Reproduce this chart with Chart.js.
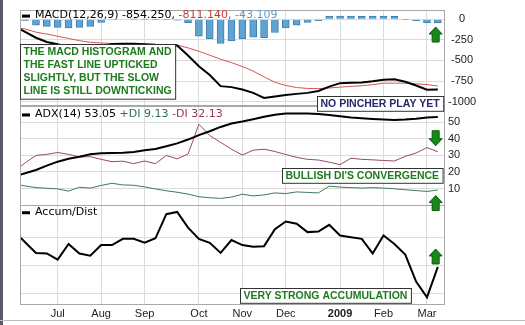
<!DOCTYPE html>
<html>
<head>
<meta charset="utf-8">
<title>MACD / ADX / Accum-Dist</title>
<script src="https://cdn.jsdelivr.net/npm/chart.js@4.4.0/dist/chart.umd.min.js"></script>
<style>
	html, body { margin: 0; padding: 0; background: #fff; }
	#wrap { width: 525px; height: 325px; }
</style>
</head>
<body>
<div id="wrap"><canvas id="myChart" width="525" height="325"></canvas></div>
<script>
// weekly bars, June 2008 - March 2009 (index 0 = first week, partly off the left edge)
const monthTicks = [4, 8, 12, 17, 21, 25, 30, 34, 38];
const monthLabels = ["Jul", "Aug", "Sep", "Oct", "Nov", "Dec", "2009", "Feb", "Mar"];

const macdTicks = [0, -250, -500, -750, -1000];
const adxTicks = [10, 20, 30, 40, 50];
const adGrid = [10, 15, 20];

const macdHist = [5, -12, -71, -86, -98, -106, -98, -86, -39, -5, 0, 3, 2, -2, -4, -10,
	-40, -205, -235, -294, -262, -235, -218, -222, -160, -106, -71, -39, -15, 40,
	40, 40, 35, 40, 40, 35, -3, -15, -45, -43.109];
const macdLine = [-79, -153, -224, -276, -304, -339, -357, -366, -327, -299, -298, -298, -302, -310, -313, -318,
	-440, -571, -676, -812, -824, -853, -894, -955, -938, -920, -906, -894, -871, -818,
	-776, -772, -767, -753, -735, -729, -759, -804, -855, -854.25];
const macdSignal = [-88, -118, -156, -180, -206, -233, -259, -280, -288, -294, -298, -301, -304, -306, -309, -313,
	-347, -388, -436, -485, -526, -574, -629, -700, -765, -804, -829, -840, -842, -835,
	-824, -815, -807, -794, -776, -776, -776, -784, -792, -811.14];

const adxLine = [17.4, 19.2, 21.2, 23.8, 26.2, 27.9, 29.1, 30.6, 31.2, 31.4, 31.6, 32.0, 33.0, 33.8, 35.5, 37.2,
	39.5, 42.2, 44.5, 47.1, 49.1, 50.3, 51.7, 53.2, 54.4, 55.1, 55.2, 55.2, 54.9, 54.2,
	53.5, 52.8, 52.3, 51.9, 51.5, 51.2, 51.5, 52.0, 52.7, 53.05];
const plusDI = [12.8, 11.6, 10.6, 10.2, 9.8, 8.5, 10.8, 10.3, 11.9, 13.2, 12.2, 12.0, 11.0, 9.8, 8.7, 7.8,
	6.7, 5.1, 4.5, 4.1, 4.9, 6.6, 5.6, 6.2, 7.4, 7.0, 8.0, 7.7, 7.4, 11.5,
	10.9, 10.6, 10.3, 10.6, 10.3, 9.9, 9.3, 8.8, 8.3, 9.13];
const minusDI = [20.3, 25.5, 29.9, 30.6, 31.7, 30.6, 29.0, 29.2, 27.6, 26.2, 26.5, 25.0, 26.6, 25.0, 29.9, 27.9,
	30.8, 48.7, 41.9, 37.8, 33.7, 30.2, 33.1, 33.7, 32.3, 30.5, 28.8, 27.6, 27.2, 25.9,
	24.4, 28.3, 27.6, 27.3, 26.9, 26.6, 29.4, 31.4, 34.7, 32.13];

const accumDist = [21.0, 19.1, 17.2, 17.1, 16.0, 18.8, 17.1, 16.7, 18.6, 18.6, 19.7, 19.7, 19.0, 19.8, 24.1, 24.5,
	21.7, 19.7, 19.0, 17.2, 19.5, 18.6, 18.3, 18.4, 21.4, 22.8, 22.4, 20.9, 21.0, 22.2,
	20.3, 20.0, 19.7, 17.1, 20.3, 18.8, 16.9, 12.1, 9.3, 14.7];

const notes = [
	{ lines: ["THE MACD HISTOGRAM AND", "THE FAST LINE UPTICKED", "SLIGHTLY, BUT THE SLOW", "LINE IS STILL DOWNTICKING"],
		color: "#1d7a1d", axis: "yMacd", x: 0.53, y: -294, anchor: "left" },
	{ lines: ["NO PINCHER PLAY YET"], color: "#27276e", axis: "yMacd", x: 39.47, y: -929, anchor: "right" },
	{ lines: ["BULLISH DI'S CONVERGENCE"], color: "#1d7a1d", axis: "yAdx", x: 39.47, y: 22.5, anchor: "right" },
	{ lines: ["VERY STRONG ACCUMULATION"], color: "#1d7a1d", axis: "yAd", x: 20.78, y: 11.0, anchor: "left" },
];

const arrows = [
	{ axis: "yMacd", x: 38.8, y: -94, dir: "up" },
	{ axis: "yAdx", x: 38.8, y: 44.8, dir: "down" },
	{ axis: "yAdx", x: 38.8, y: 5.8, dir: "up" },
	{ axis: "yAd", x: 38.8, y: 17.9, dir: "up" },
];

const toPoints = (arr) => arr.map((v, i) => ({ x: i, y: v }));

const textFont = '11px "DejaVu Sans"';
const noteFont = 'bold 10.5px "Liberation Sans"';

function drawLegend(ctx, y, parts) {
	ctx.fillStyle = "#000";
	ctx.fillRect(22, y - 1, 8, 3);
	ctx.font = textFont;
	ctx.textBaseline = "middle";
	ctx.textAlign = "left";
	let x = 35;
	for (let p of parts) {
		ctx.fillStyle = p[1];
		ctx.fillText(p[0], x, y);
		x += ctx.measureText(p[0]).width;
	}
}

function drawArrow(ctx, cx, top, dir) {
	let hw = 6.5, sw = 3.5, hh = 7, h = 15;
	let pts;
	if (dir === "up") {
		pts = [[0, 0], [hw, hh], [sw, hh], [sw, h], [-sw, h], [-sw, hh], [-hw, hh]];
	} else {
		pts = [[0, h], [hw, h - hh], [sw, h - hh], [sw, 0], [-sw, 0], [-sw, h - hh], [-hw, h - hh]];
	}
	ctx.beginPath();
	pts.forEach((p, i) => (i ? ctx.lineTo(cx + p[0], top + p[1]) : ctx.moveTo(cx + p[0], top + p[1])));
	ctx.closePath();
	ctx.fillStyle = "#168a16";
	ctx.fill();
	ctx.strokeStyle = "#0c5a0c";
	ctx.lineWidth = 1;
	ctx.stroke();
}

const overlay = {
	id: "overlay",
	beforeDraw(chart) {
		const ctx = chart.ctx;
		ctx.save();
		ctx.fillStyle = "#fff";
		ctx.fillRect(0, 0, chart.width, chart.height);
		ctx.restore();
	},
	afterDraw(chart) {
		const { ctx, chartArea: a, scales } = chart;
		ctx.save();

		// panel frames
		ctx.strokeStyle = "#a8a8a8";
		ctx.lineWidth = 1;
		for (let id of ["yMacd", "yAdx", "yAd"]) {
			let s = scales[id];
			ctx.strokeRect(a.left + 0.5, Math.round(s.top) + 0.5, a.right - a.left - 1, Math.round(s.bottom - s.top));
		}

		// outer frame of the picture
		ctx.fillStyle = "#5a5b68";
		ctx.fillRect(0, 0, 3, chart.height);
		ctx.fillStyle = "#bdbdbd";
		ctx.fillRect(0, 320, chart.width, 1);

		// panel titles
		drawLegend(ctx, scales.yMacd.top + 6, [
			["MACD(12,26,9) -854.250, ", "#000"],
			["-811.140, ", "#c23b3b"],
			["-43.109", "#5b9ccc"],
		]);
		drawLegend(ctx, scales.yAdx.top + 9, [
			["ADX(14) 53.05 ", "#000"],
			["+DI 9.13 ", "#2f6e50"],
			["-DI 32.13", "#8e3a62"],
		]);
		drawLegend(ctx, scales.yAd.top + 7, [["Accum/Dist", "#000"]]);

		// annotation boxes
		ctx.font = noteFont;
		const lineH = 13.3;
		for (let n of notes) {
			let w = Math.max(...n.lines.map((t) => ctx.measureText(t).width)) + 7;
			let h = n.lines.length * lineH + 1.5;
			let px = scales.x.getPixelForValue(n.x);
			let top = Math.round(scales[n.axis].getPixelForValue(n.y));
			let left = Math.round(n.anchor === "left" ? px : px - w);
			ctx.fillStyle = "#fff";
			ctx.fillRect(left, top, w, h);
			ctx.strokeStyle = "#333";
			ctx.strokeRect(left + 0.5, top + 0.5, w, h);
			ctx.fillStyle = n.color;
			ctx.textBaseline = "middle";
			ctx.textAlign = "left";
			n.lines.forEach((t, i) => ctx.fillText(t, left + 3.5, top + 1 + lineH * (i + 0.5)));
		}

		// green arrows
		for (let ar of arrows) {
			drawArrow(ctx, scales.x.getPixelForValue(ar.x), scales[ar.axis].getPixelForValue(ar.y), ar.dir);
		}
		ctx.restore();
	},
};

Chart.defaults.font.family = '"Liberation Sans", Arial, sans-serif';
Chart.defaults.font.size = 11;
Chart.defaults.color = "#333";

const gridColor = "#dcdcdc";
const axisWidth = (s) => { s.width = 80; };
const plainNumber = (v) => String(v);

var ctx = document.getElementById("myChart").getContext("2d");
var chart = new Chart(ctx, {
	type: "bar",
	data: {
		datasets: [
			{ type: "bar", data: toPoints(macdHist), yAxisID: "yMacd", backgroundColor: "#5ea3d2",
				borderColor: "#3f80b0", borderWidth: 1, barThickness: 7, order: 5 },
			{ type: "line", data: toPoints(macdSignal), yAxisID: "yMacd", borderColor: "#d65454",
				borderWidth: 1, pointRadius: 0, order: 2 },
			{ type: "line", data: toPoints(macdLine), yAxisID: "yMacd", borderColor: "#000",
				borderWidth: 2, pointRadius: 0, order: 1 },
			{ type: "line", data: toPoints(minusDI), yAxisID: "yAdx", borderColor: "#9a4670",
				borderWidth: 1, pointRadius: 0, order: 3 },
			{ type: "line", data: toPoints(plusDI), yAxisID: "yAdx", borderColor: "#3c7a5c",
				borderWidth: 1, pointRadius: 0, order: 3 },
			{ type: "line", data: toPoints(adxLine), yAxisID: "yAdx", borderColor: "#000",
				borderWidth: 2, pointRadius: 0, order: 1 },
			{ type: "line", data: toPoints(accumDist), yAxisID: "yAd", borderColor: "#000",
				borderWidth: 2, pointRadius: 0, order: 1 },
		],
	},
	options: {
		responsive: false,
		animation: false,
		devicePixelRatio: 1,
		layout: { padding: { left: 20, top: 0, right: 0, bottom: 0 } },
		plugins: { legend: { display: false }, tooltip: { enabled: false } },
		scales: {
			x: {
				type: "linear",
				min: 0.529,
				max: 39.66,
				offset: false,
				grid: { color: gridColor, drawTicks: false, offset: false },
				border: { display: false },
				afterBuildTicks: (s) => { s.ticks = monthTicks.map((v) => ({ value: v })); },
				afterFit: (s) => { s.height = 21; },
				ticks: {
					autoSkip: false,
					maxRotation: 0,
					padding: 3,
					color: "#222",
					font: (c) => ({ size: 11, weight: c.tick && c.tick.value === 30 ? "bold" : "normal" }),
					callback: (v) => monthLabels[monthTicks.indexOf(v)],
				},
			},
			yMacd: {
				type: "linear",
				position: "right",
				stack: "panels",
				stackWeight: 99,
				min: -1047,
				max: 118,
				grid: { color: gridColor, drawTicks: false },
				border: { display: false },
				afterBuildTicks: (s) => { s.ticks = macdTicks.map((v) => ({ value: v })); },
				afterFit: axisWidth,
				ticks: { autoSkip: false, crossAlign: "center", padding: 3, color: "#222", callback: plainNumber },
			},
			yAdx: {
				type: "linear",
				position: "right",
				stack: "panels",
				stackWeight: 103,
				min: 0,
				max: 60,
				grid: { color: gridColor, drawTicks: false },
				border: { display: false },
				afterBuildTicks: (s) => { s.ticks = adxTicks.map((v) => ({ value: v })); },
				afterFit: axisWidth,
				ticks: { autoSkip: false, crossAlign: "near", padding: 3, color: "#222", callback: plainNumber },
			},
			yAd: {
				type: "linear",
				position: "right",
				stack: "panels",
				stackWeight: 102,
				min: 8.1,
				max: 25.69,
				grid: { color: gridColor, drawTicks: false },
				border: { display: false },
				afterBuildTicks: (s) => { s.ticks = adGrid.map((v) => ({ value: v })); },
				afterFit: axisWidth,
				ticks: { display: false },
			},
		},
	},
	plugins: [overlay],
});
</script>
</body>
</html>
